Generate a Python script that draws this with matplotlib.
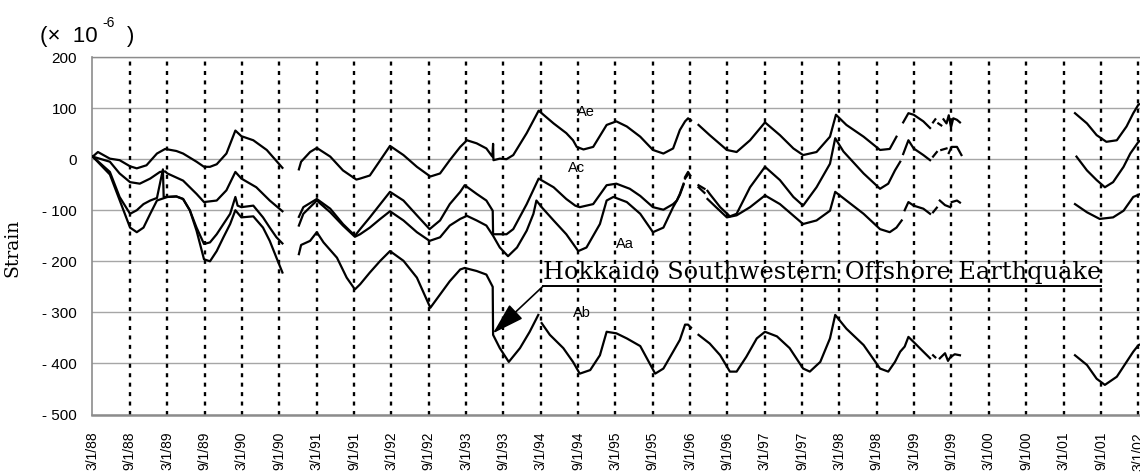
import numpy as np
import matplotlib.pyplot as plt

plt.rcParams.update(
    {
        "font.family": ["Liberation Sans", "DejaVu Sans"],
        "font.size": 10,
    }
)

nan = np.nan

# --- Data (decimal years, strain in 1e-6), nan = gap in record ---
ae_t = [1988.17, 1988.24, 1988.40, 1988.53, 1988.67, 1988.76, 1988.89, 1989.03, 1989.14, 1989.29,
        1989.38, 1989.56, 1989.66, 1989.74, 1989.83, 1989.96, 1990.08, 1990.16, 1990.32, 1990.50,
        1990.71, nan,
        1990.93, 1990.96, 1991.08, 1991.17, 1991.35, 1991.52, 1991.70, 1991.75, 1991.88, 1992.02,
        1992.15, 1992.33, 1992.51, 1992.69, 1992.82, 1992.95, 1993.09, 1993.18, 1993.31, 1993.44,
        1993.52, 1993.53, 1993.535, 1993.62, 1993.71, 1993.80, 1993.98, 1994.14, 1994.34, 1994.51,
        1994.60, 1994.65, 1994.74, 1994.87, 1995.05, 1995.18, 1995.32, 1995.50, 1995.67, 1995.81,
        1995.94, 1996.03, 1996.10, 1996.14, 1996.18, nan,
        1996.28, 1996.43, 1996.66, 1996.79, 1996.97, 1997.17, 1997.37, 1997.55, 1997.68, 1997.86,
        1998.04, 1998.12, 1998.26, 1998.49, 1998.71, 1998.84, 1998.93, nan,
        1999.02, 1999.09, 1999.16, 1999.29, 1999.38, nan, 1999.42, 1999.45, nan, 1999.49, 1999.53, nan,
        1999.56, 1999.60, 1999.63, 1999.66, 1999.69, 1999.74, 1999.78, nan,
        2001.32, 2001.48, 2001.61, 2001.74, 2001.88, 2002.01, 2002.10, 2002.17, 2002.25]
ae_v = [5, 14, 1, -2, -14, -18, -12, 11, 20, 16,
        11, -5, -15, -15, -10, 11, 56, 45, 37, 18,
        -17, nan,
        -20, -5, 14, 22, 5, -22, -40, -38, -32, -2,
        26, 8, -15, -34, -28, -2, 24, 37, 31, 21,
        5, 30, -2, 1, 0, 8, 51, 95, 70, 51,
        37, 24, 19, 24, 67, 74, 64, 44, 18, 11,
        21, 57, 74, 80, 76, nan,
        67, 47, 18, 14, 37, 72, 47, 21, 8, 14,
        44, 87, 67, 44, 18, 20, 44, nan,
        72, 90, 87, 74, 61, nan, 72, 78, nan, 70, 66, nan,
        78, 70, 86, 62, 80, 77, 72, nan,
        90, 70, 47, 34, 37, 64, 90, 107, 110]

ac_t = [1988.17, 1988.40, 1988.53, 1988.67, 1988.80, 1988.94, 1989.07, 1989.14, 1989.17, 1989.38,
        1989.56, 1989.66, 1989.83, 1989.96, 1990.08, 1990.16, 1990.36, 1990.54, 1990.71, nan,
        1990.93, 1990.99, 1991.17, 1991.35, 1991.52, 1991.68, 1991.75, 1991.88, 1992.02, 1992.15,
        1992.33, 1992.51, 1992.68, 1992.82, 1992.95, 1993.09, 1993.15, 1993.31, 1993.44, 1993.525,
        1993.53, 1993.71, 1993.80, 1993.98, 1994.14, 1994.34, 1994.51, 1994.63, 1994.69, 1994.87,
        1995.05, 1995.18, 1995.36, 1995.50, 1995.67, 1995.81, 1995.94, 1995.99, 1996.03, 1996.08, nan,
        1996.10, 1996.14, 1996.17, nan, 1996.28, 1996.36, nan,
        1996.40, 1996.43, 1996.57, 1996.70, 1996.79, 1996.97, 1997.17, 1997.37, 1997.55, 1997.68,
        1997.86, 1998.04, 1998.11, 1998.22, 1998.49, 1998.71, 1998.82, 1998.91, 1998.98, nan,
        1999.02, 1999.09, 1999.16, 1999.29, 1999.38, nan, 1999.42, 1999.47, nan, 1999.53, 1999.60, nan,
        1999.63, 1999.67, 1999.74, 1999.80, nan,
        2001.34, 2001.48, 2001.61, 2001.72, 2001.83, 2001.97, 2002.06, 2002.17, 2002.25]
ac_v = [5, -5, -28, -45, -48, -38, -25, -24, -28, -42,
        -68, -84, -81, -61, -25, -38, -55, -81, -102, nan,
        -113, -94, -78, -97, -127, -150, -137, -114, -88, -64,
        -81, -110, -137, -120, -88, -64, -51, -68, -81, -101,
        -147, -147, -137, -88, -38, -55, -78, -91, -94, -88,
        -51, -48, -58, -72, -94, -99, -88, -81, -68, -48, nan,
        -35, -25, -32, nan, -51, -58, nan,
        -62, -68, -94, -112, -107, -55, -15, -41, -74, -91,
        -55, -9, 41, 15, -28, -58, -48, -22, -5, nan,
        10, 37, 21, 8, -2, nan, 5, 14, nan, 18, 21, nan,
        12, 24, 24, 8, nan,
        5, -22, -41, -55, -45, -15, 11, 34, 40]

aa_t = [1988.17, 1988.40, 1988.53, 1988.67, 1988.76, 1988.85, 1988.94, 1989.03, 1989.11, 1989.12,
        1989.17, 1989.29, 1989.38, 1989.47, 1989.56, 1989.66, 1989.74, 1989.83, 1989.92, 1990.01,
        1990.08, 1990.11, 1990.16, 1990.32, 1990.45, 1990.54, 1990.63, 1990.71, nan,
        1990.93, 1990.99, 1991.17, 1991.35, 1991.52, 1991.68, 1991.75, 1991.88, 1992.02, 1992.15,
        1992.33, 1992.51, 1992.68, 1992.82, 1992.95, 1993.09, 1993.18, 1993.31, 1993.44, 1993.53,
        1993.62, 1993.73, 1993.85, 1993.98, 1994.07, 1994.11, 1994.18, 1994.34, 1994.51, 1994.67,
        1994.78, 1994.96, 1995.05, 1995.14, 1995.32, 1995.50, 1995.67, 1995.81, 1995.94, 1995.99,
        1996.03, 1996.08, nan, 1996.10, 1996.14, nan, 1996.28, 1996.36, nan,
        1996.40, 1996.50, 1996.66, 1996.79, 1996.97, 1997.17, 1997.37, 1997.68, 1997.86, 1998.04,
        1998.11, 1998.26, 1998.49, 1998.71, 1998.84, 1998.93, 1999.00, nan,
        1999.04, 1999.09, 1999.16, 1999.29, 1999.38, nan, 1999.42, 1999.47, nan,
        1999.51, 1999.58, 1999.65, nan, 1999.67, 1999.74, 1999.78, nan,
        2001.32, 2001.48, 2001.65, 2001.83, 2001.97, 2002.10, 2002.20, 2002.25]
aa_v = [5, -25, -74, -107, -100, -88, -81, -76, -20, -74,
        -74, -73, -78, -100, -134, -166, -163, -147, -127, -107,
        -74, -91, -94, -91, -114, -134, -153, -165, nan,
        -130, -107, -81, -104, -130, -152, -147, -134, -117, -102,
        -120, -143, -160, -153, -130, -117, -111, -120, -130, -150,
        -173, -190, -173, -140, -107, -81, -94, -120, -147, -180,
        -173, -127, -81, -74, -84, -107, -143, -134, -94, -81,
        -70, -50, nan, -38, -30, nan, -55, -66, nan,
        -78, -92, -114, -110, -94, -71, -88, -127, -120, -101,
        -64, -81, -107, -137, -143, -134, -120, nan,
        -100, -84, -91, -97, -107, nan, -104, -95, nan,
        -81, -90, -94, nan, -84, -81, -85, nan,
        -88, -104, -117, -114, -101, -74, -68, -70]

ab_t = [1988.17, 1988.40, 1988.53, 1988.67, 1988.76, 1988.85, 1988.94, 1989.03, 1989.17, 1989.29,
        1989.38, 1989.47, 1989.56, 1989.66, 1989.74, 1989.83, 1989.92, 1990.01, 1990.08, 1990.16,
        1990.32, 1990.45, 1990.54, 1990.63, 1990.71, nan,
        1990.93, 1990.96, 1991.08, 1991.17, 1991.26, 1991.44, 1991.57, 1991.68, 1991.75, 1991.88,
        1992.02, 1992.15, 1992.33, 1992.51, 1992.69, 1992.82, 1992.95, 1993.09, 1993.15, 1993.31,
        1993.44, 1993.525, 1993.53, 1993.62, 1993.74, 1993.89, 1994.02, 1994.135, nan,
        1994.18, 1994.29, 1994.47, 1994.60, 1994.69, 1994.83, 1994.96, 1995.05, 1995.18, 1995.32,
        1995.50, 1995.70, 1995.81, 1995.94, 1996.03, 1996.10, 1996.14, 1996.18, nan,
        1996.28, 1996.43, 1996.57, 1996.70, 1996.79, 1996.92, 1997.06, 1997.17, 1997.33, 1997.50,
        1997.68, 1997.77, 1997.91, 1998.04, 1998.11, 1998.26, 1998.49, 1998.71, 1998.82, 1998.91,
        1998.98, 1999.04, 1999.09, 1999.16, 1999.29, 1999.38, nan, 1999.42, 1999.45, nan,
        1999.51, 1999.58, 1999.62, 1999.65, 1999.71, 1999.78, nan,
        2001.32, 2001.48, 2001.61, 2001.72, 2001.88, 2002.01, 2002.10, 2002.17, 2002.25]
ab_v = [5, -30, -80, -134, -143, -134, -107, -81, -74, -73,
        -78, -100, -140, -196, -200, -180, -153, -127, -100, -114,
        -112, -134, -160, -193, -222, nan,
        -186, -168, -160, -143, -163, -193, -232, -255, -245, -222,
        -199, -180, -199, -232, -291, -265, -239, -216, -213, -219,
        -226, -250, -344, -370, -397, -370, -338, -305, nan,
        -321, -344, -370, -397, -420, -413, -384, -338, -341, -351,
        -366, -420, -410, -377, -354, -324, -324, -330, nan,
        -344, -361, -384, -416, -416, -387, -351, -338, -347, -370,
        -410, -416, -397, -351, -305, -332, -364, -410, -416, -397,
        -377, -367, -348, -358, -377, -390, nan, -384, -388, nan,
        -390, -380, -395, -388, -382, -384, nan,
        -384, -403, -430, -442, -426, -397, -377, -364, -360]

series_names = ["Ae", "Ac", "Aa", "Ab"]
label_pos = [(1994.77, 92), (1994.65, -18), (1995.30, -166), (1994.72, -302)]

date_labels = ["3/1/88", "9/1/88", "3/1/89", "9/1/89", "3/1/90", "9/1/90", "3/1/91", "9/1/91",
               "3/1/92", "9/1/92", "3/1/93", "9/1/93", "3/1/94", "9/1/94", "3/1/95", "9/1/95",
               "3/1/96", "9/1/96", "3/1/97", "9/1/97", "3/1/98", "9/1/98", "3/1/99", "9/1/99",
               "3/1/00", "9/1/00", "3/1/01", "9/1/01", "3/1/02"]
date_ticks = []
for s in date_labels:
    m, d, y = (int(p) for p in s.split("/"))
    date_ticks.append((1900 + y if y > 50 else 2000 + y) + (m - 1) / 12)

y_ticks = [200, 100, 0, -100, -200, -300, -400, -500]
y_labels = ["200", "100", "0", "- 100", "- 200", "- 300", "- 400", "- 500"]

quake_t, quake_v = 1993.528, -341

# --- Figure ---
fig = plt.figure(figsize=(11.4, 4.72), dpi=100)
ax = fig.add_axes([0.0811, 0.1218, 0.9392, 0.7574])

ax.set_xlim(date_ticks[0], 2002.5)
ax.set_ylim(-500, 200)

for t, v in [(ae_t, ae_v), (ac_t, ac_v), (aa_t, aa_v), (ab_t, ab_v)]:
    ax.plot(t, v, color="black", linewidth=1.6, zorder=3)

# grid
ax.set_yticks(y_ticks, y_labels)
ax.yaxis.grid(True, color="#a6a6a6", linewidth=1.0)
for xt in date_ticks[1:]:
    ax.axvline(xt, color="black", linewidth=1.7, linestyle=(0, (1.7, 2.3)),
               dash_capstyle="butt", zorder=2)

ax.set_xticks(date_ticks, date_labels, rotation=90)
ax.tick_params(axis="x", length=0, pad=12.5, labelsize=10)
ax.tick_params(axis="y", length=0, pad=11, labelsize=11)

for sp in ["left", "bottom", "top"]:
    ax.spines[sp].set_color("#8c8c8c")
ax.spines["bottom"].set_linewidth(1.8)
ax.spines["left"].set_linewidth(1.2)
ax.spines["top"].set_linewidth(1.0)
ax.spines["right"].set_visible(False)

for name, (lx, ly) in zip(series_names, label_pos):
    ax.text(lx, ly, name, fontsize=10.5, ha="center", va="center", zorder=4)

ax.set_ylabel("Strain", fontfamily="DejaVu Serif", fontsize=13.5)
ax.yaxis.set_label_coords(-0.066, 0.466)

fig.text(0.0351, 0.911, "(×  10", fontsize=16, va="baseline")
fig.text(0.0895, 0.9428, "-6", fontsize=10, va="baseline")
fig.text(0.1114, 0.911, ")", fontsize=16, va="baseline")

# Earthquake annotation
note_x, note_base, note_ul = 1994.197, -235, -249
note = ax.text(note_x, note_base, "Hokkaido Southwestern Offshore Earthquake",
               fontfamily="DejaVu Serif", fontsize=17.3, va="baseline", ha="left", zorder=5)
ax.annotate("", xy=(quake_t, quake_v), xytext=(note_x, note_ul),
            arrowprops=dict(arrowstyle="-|>,head_length=2.0,head_width=0.6",
                            color="black", lw=1.2, shrinkA=0, shrinkB=0),
            zorder=5)
fig.canvas.draw()
bb = note.get_window_extent()
x_end = ax.transData.inverted().transform((bb.x1, bb.y0))[0]
ax.plot([note_x, x_end], [note_ul, note_ul], color="black", linewidth=1.4, zorder=5)

plt.savefig("out.png", dpi=100)
